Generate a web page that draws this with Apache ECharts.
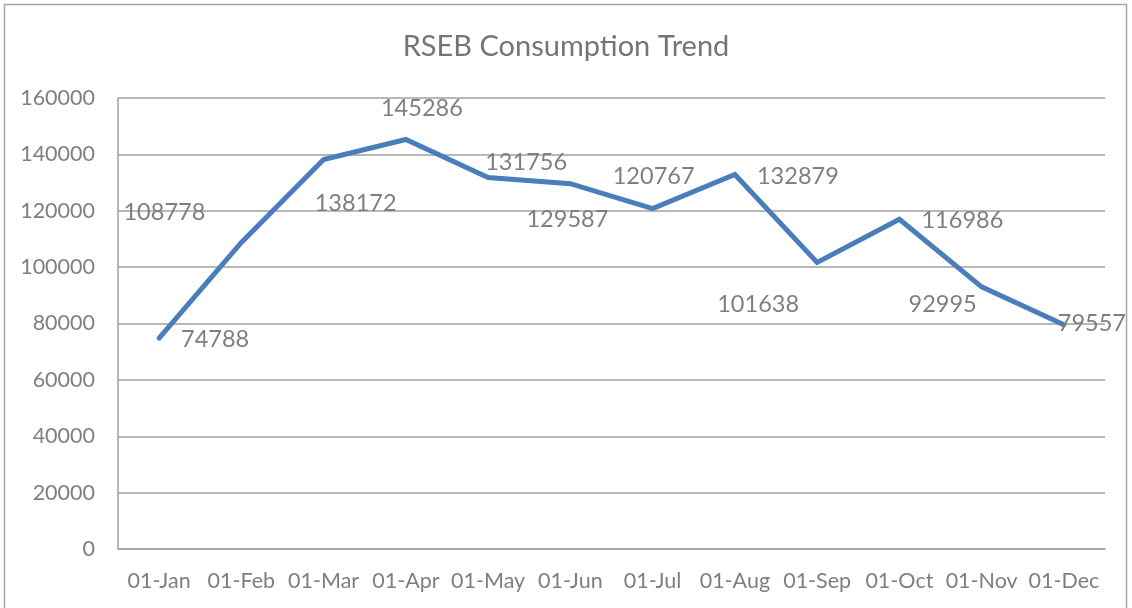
<!DOCTYPE html>
<html>
<head>
<meta charset="utf-8">
<script src="https://cdn.jsdelivr.net/npm/echarts@6/dist/echarts.min.js"></script>
<style>html,body{margin:0;padding:0;background:#fff}#c{width:1132px;height:608px}</style>
</head>
<body>
<div id="c"></div>
<script>
const categories = ['01-Jan','01-Feb','01-Mar','01-Apr','01-May','01-Jun','01-Jul','01-Aug','01-Sep','01-Oct','01-Nov','01-Dec'];
const consumption = [74788,108778,138172,145286,131756,129587,120767,132879,101638,116986,92995,79557];
const labelOffsets = [[56,1],[-77,-30],[32,44],[16,-31],[38,-15],[-3,36],[1,-32],[63,2],[-59,42],[63,1],[-39,18],[28,-1]];
const yTicks = {min:0, max:160000, interval:20000};

const FONT = 'Lato';
const GREY = '#7f7f7f';
const chart = echarts.init(document.getElementById('c'));
chart.setOption({
  animation:false,
  backgroundColor:'#fff',
  graphic:[{type:'rect',shape:{x:4.5,y:4.5,width:1122,height:640},style:{fill:'none',stroke:'#a6a6a6',lineWidth:1.5},silent:true,z:-1}],
  title:{text:'RSEB Consumption Trend',left:'center',top:27,textStyle:{fontFamily:FONT,fontSize:29,fontWeight:'normal',color:'#757575'}},
  grid:{left:118,right:27,top:98,bottom:59},
  xAxis:{type:'category',data:categories,boundaryGap:true,
    axisLine:{show:true,lineStyle:{color:'#a0a0a0',width:1.5}},axisTick:{show:false},
    axisLabel:{interval:0,fontFamily:FONT,fontSize:21.5,color:GREY,margin:21}},
  yAxis:{type:'value',min:yTicks.min,max:yTicks.max,interval:yTicks.interval,
    axisLine:{show:true,lineStyle:{color:'#a0a0a0',width:1.5}},axisTick:{show:false},
    splitLine:{lineStyle:{color:'#a0a0a0',width:1.5}},
    axisLabel:{formatter:v=>String(v),fontFamily:FONT,fontSize:21.5,color:GREY,margin:23}},
  series:[{type:'line',data:consumption.map((v,i)=>({value:v,label:{offset:labelOffsets[i]}})),
    showSymbol:true,symbol:'circle',symbolSize:2,
    lineStyle:{color:'#4a7ebb',width:5,cap:'round',join:'miter'},itemStyle:{color:'#4a7ebb'},
    label:{show:true,position:'inside',align:'center',verticalAlign:'middle',fontFamily:FONT,fontSize:23.5,color:GREY}}]
});
</script>
</body>
</html>
